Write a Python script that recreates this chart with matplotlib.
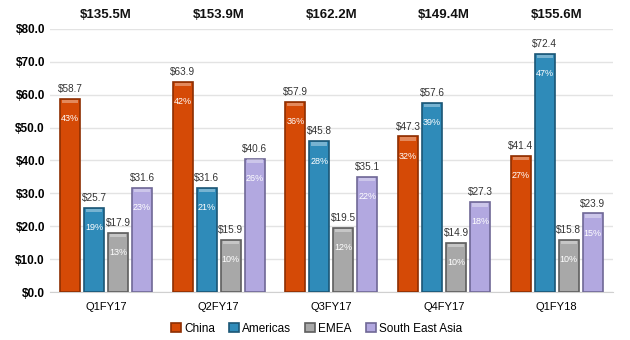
import numpy as np
import matplotlib.pyplot as plt

quarters = ["Q1FY17", "Q2FY17", "Q3FY17", "Q4FY17", "Q1FY18"]
totals = ["$135.5M", "$153.9M", "$162.2M", "$149.4M", "$155.6M"]

china = [58.7, 63.9, 57.9, 47.3, 41.4]
americas = [25.7, 31.6, 45.8, 57.6, 72.4]
emea = [17.9, 15.9, 19.5, 14.9, 15.8]
sea = [31.6, 40.6, 35.1, 27.3, 23.9]

china_pct = ["43%", "42%", "36%", "32%", "27%"]
americas_pct = ["19%", "21%", "28%", "39%", "47%"]
emea_pct = ["13%", "10%", "12%", "10%", "10%"]
sea_pct = ["23%", "26%", "22%", "18%", "15%"]

series = [
    ("China", china, china_pct, "#D54A06", "#8E2F02"),
    ("Americas", americas, americas_pct, "#2F8BB9", "#1B5675"),
    ("EMEA", emea, emea_pct, "#A8A8A8", "#5E5E5E"),
    ("South East Asia", sea, sea_pct, "#B2A8E0", "#6F6896"),
]

plt.rcParams['font.family'] = ['Liberation Sans', 'DejaVu Sans']

fig = plt.figure(figsize=(6.3, 3.4), dpi=100)
ax = fig.add_axes([0.079, 0.141, 0.894, 0.774])

x = np.arange(len(quarters))
width = 0.178
step = 0.213

for i, (name, vals, pcts, color, edge) in enumerate(series):
    pos = x + (i - 1.5) * step
    ax.bar(pos, vals, width, color=color, edgecolor=edge, linewidth=1.2,
           label=name, zorder=3)
    # lighter strip along the top of each bar
    ax.bar(pos, [1.0] * len(vals), width * 0.8, bottom=[v - 1.3 for v in vals],
           color="white", alpha=0.35, linewidth=0, zorder=4)
    for xi, v, p in zip(pos, vals, pcts):
        ax.text(xi, v + 1.5, f"${v:.1f}", ha="center", va="bottom",
                fontsize=7.2, color="#333333", zorder=5)
        ax.text(xi, v - 6.0, p, ha="center", va="center", fontsize=6.5,
                color="white", zorder=5)

for xi, t in zip(x, totals):
    ax.text(xi, 84.3, t, ha="center", va="center", fontsize=9.5,
            fontweight="bold", color="#111111", clip_on=False)

ax.set_xlim(-0.5, len(quarters) - 0.5)
ax.set_ylim(0, 80)
ax.set_yticks(np.arange(0, 81, 10))
ax.set_yticklabels([f"${v:.1f}" for v in np.arange(0, 81, 10)],
                   fontsize=8.5, fontweight="bold")
ax.set_xticks(x)
ax.set_xticklabels(quarters, fontsize=8)
ax.tick_params(axis="both", length=0)
ax.tick_params(axis="x", pad=7)

ax.grid(axis="y", color="#E3E3E3", linewidth=1, zorder=0)
for s in ["top", "right", "left"]:
    ax.spines[s].set_visible(False)
ax.spines["bottom"].set_color("#D0D0D0")

ax.legend(loc="center", bbox_to_anchor=(0.474, -0.14), ncol=4,
          frameon=False, fontsize=8.5, handlelength=0.8, handleheight=0.8,
          handletextpad=0.3, columnspacing=1.2)

fig.savefig("out.png", dpi=100)
